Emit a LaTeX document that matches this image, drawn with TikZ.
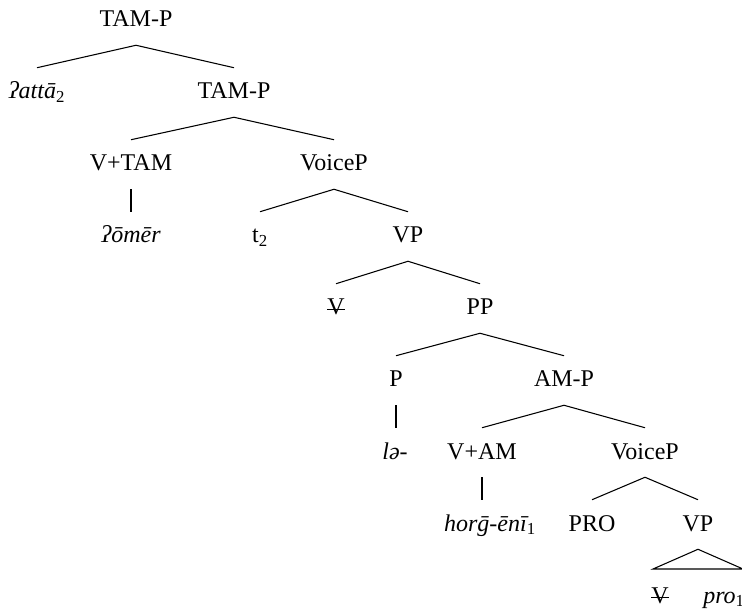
\documentclass[tikz,border=0pt]{standalone}
\usepackage{fontspec}
\setmainfont{Liberation Serif}
\newcommand{\strikeV}{\ooalign{V\cr\hidewidth\vrule height 0.27em depth -0.22em width 0.72em\hidewidth\cr}}
\newcommand{\sub}[1]{\textsubscript{\upshape #1}}
\begin{document}
\begin{tikzpicture}[x=0.75pt,y=-0.75pt,
  every node/.style={font=\fontsize{18}{21}\selectfont},
  tn/.style={anchor=base, inner xsep=1pt, inner ysep=9.75pt, text height=13.5pt, text depth=3.75pt},
  lf/.style={tn, font=\fontsize{18}{21}\selectfont\itshape},
  edge/.style={line width=0.8pt}]
\useasboundingbox (0,0) rectangle (742,609);
\clip (0,0) rectangle (742,609);
% level baselines: 27 + 72k
\node[tn] (t0) at (136,27) {TAM-P};
\node[lf] (att) at (37,99) {ʔattā\sub{2}};
\node[tn] (t1) at (234,99) {TAM-P};
\node[tn] (vtam) at (131,171) {V+TAM};
\node[tn] (voice1) at (334,171) {VoiceP};
\node[lf] (omer) at (131,243) {ʔōmēr};
\node[tn] (t2) at (260,243) {t\sub{2}};
\node[tn] (vp1) at (408,243) {VP};
\node[tn] (sv1) at (336,315) {\strikeV};
\node[tn] (pp) at (480,315) {PP};
\node[tn] (p) at (396,387) {P};
\node[tn] (amp) at (564,387) {AM-P};
\node[lf] (la) at (395,459) {lə-};
\node[tn] (vam) at (482,459) {V+AM};
\node[tn] (voice2) at (645,459) {VoiceP};
\node[lf] (hor) at (490,531) {horḡ-ēnī\sub{1}};
\node[tn] (pro) at (592,531) {PRO};
\node[tn] (vp2) at (698,531) {VP};
\node[tn] (sv2) at (660,603) {\strikeV};
\node[lf, anchor=base west, inner xsep=0pt] (prosm) at (703,603) {pro\sub{1}};
\coordinate (trl) at (653,569);
\coordinate (trr) at (743,569);
\draw[edge] (att.north) -- (t0.south) -- (t1.north);
\draw[edge] (vtam.north) -- (t1.south) -- (voice1.north);
\draw[edge] (vtam.south) -- (vtam.south |- omer.north);
\draw[edge] (t2.north) -- (voice1.south) -- (vp1.north);
\draw[edge] (sv1.north) -- (vp1.south) -- (pp.north);
\draw[edge] (p.north) -- (pp.south) -- (amp.north);
\draw[edge] (p.south) -- (p.south |- la.north);
\draw[edge] (vam.north) -- (amp.south) -- (voice2.north);
\draw[edge] (vam.south) -- (vam.south |- hor.north);
\draw[edge] (pro.north) -- (voice2.south) -- (vp2.north);
\draw[edge] (vp2.south) -- (trl) -- (trr) -- cycle;
\end{tikzpicture}
\end{document}
